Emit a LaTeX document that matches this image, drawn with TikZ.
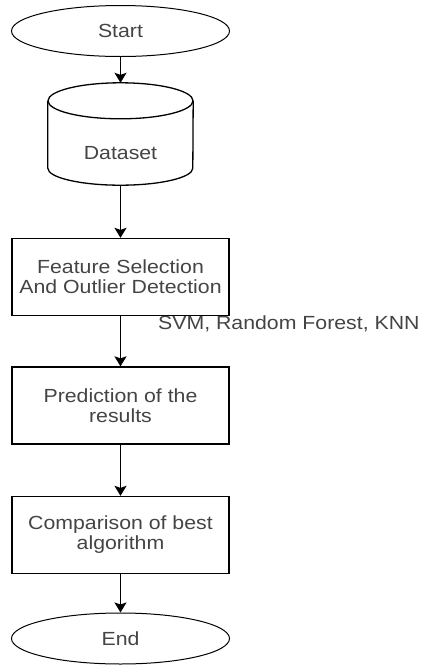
\documentclass[tikz,border=0pt]{standalone}
\usepackage{fontspec}
\setmainfont{Liberation Sans}[FakeStretch=1.12]
\usetikzlibrary{arrows.meta,shapes.geometric}
\definecolor{txt}{HTML}{444444}
\begin{document}
\begin{tikzpicture}[x=1pt,y=-1pt,
  every node/.style={font=\fontsize{19}{20}\selectfont, text=txt, align=center, inner sep=0pt},
  term/.style={draw, ellipse, line width=1pt, minimum width=218pt, minimum height=51pt},
  proc/.style={draw, rectangle, line width=1.3pt, minimum width=217pt, minimum height=77pt},
  flow/.style={draw, line width=1.5pt, -{Stealth[length=10pt,width=12pt,inset=2pt]}}
]
\useasboundingbox (0,0) rectangle (425,665);

% start / end terminals
\node[term] (start) at (120.5,31) {Start};
\node[term] (end) at (120.5,638.5) {End};

% dataset cylinder: a text node (label set below the lid) plus its outline
\node[minimum width=145pt, minimum height=102pt] (data) at (120.5,134)
  {\raisebox{-25pt}[0pt][0pt]{Dataset}};
\begin{scope}[line width=1.3pt]
  \draw ([yshift=-18pt]data.north west) -- ([yshift=17pt]data.south west)
        arc[start angle=180, end angle=360, x radius=72.5pt, y radius=17pt]
        -- ([yshift=-18pt]data.north east);
  \draw ([yshift=-18pt]data.north) ellipse[x radius=72.5pt, y radius=18pt];
\end{scope}

% process boxes
\node[proc] (feat) at (120.5,277) {Feature Selection\\And Outlier Detection};
\node[proc] (pred) at (120.5,405.5) {Prediction of the\\results};
\node[proc] (comp) at (120.5,535) {Comparison of best\\algorithm};

% label beside the middle connector
\node[anchor=west] (algs) at (158,324) {SVM, Random Forest, KNN};

% connectors
\draw[flow] (start) -- (data.north);
\draw[flow] (data.south) -- (feat.north);
\draw[flow] (feat) -- (pred);
\draw[flow] (pred) -- (comp);
\draw[flow] (comp) -- (end);
\end{tikzpicture}
\end{document}
